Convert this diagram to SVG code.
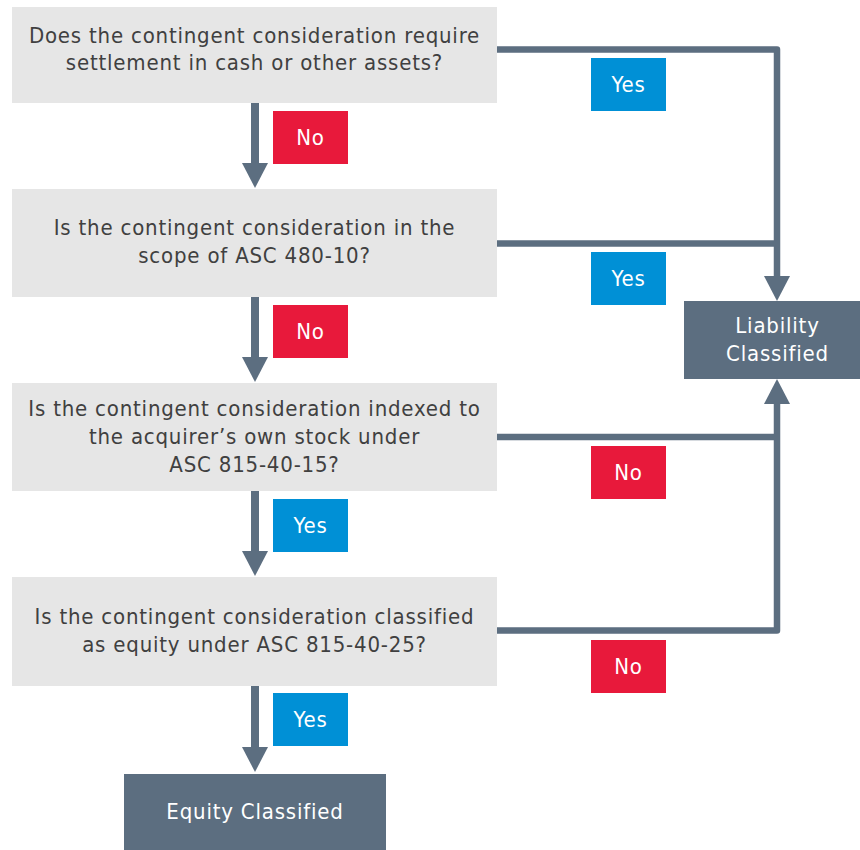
<svg xmlns="http://www.w3.org/2000/svg" width="860" height="850" viewBox="0 0 860 850">
<defs>
<style>
.q{fill:#e6e6e6}
.term{fill:#5c6e80}
.no{fill:#e8193b}
.yes{fill:#0090d6}
.qt{font-family:"DejaVu Sans Condensed","DejaVu Sans",sans-serif;font-stretch:condensed;font-size:22px;letter-spacing:0.8px;fill:#404040;text-anchor:middle}
.lt{font-family:"DejaVu Sans Condensed","DejaVu Sans",sans-serif;font-stretch:condensed;font-size:22px;letter-spacing:0.8px;fill:#ffffff;text-anchor:middle}
.main{fill:none;stroke:#5c6e80;stroke-width:8}
.side{fill:none;stroke:#5c6e80;stroke-width:6.5;stroke-linejoin:round}
</style>
<marker id="ah" markerUnits="userSpaceOnUse" markerWidth="26" markerHeight="26" refX="0" refY="13" orient="auto" viewBox="0 0 25 26">
<path d="M0,0 L25,13 L0,26 z" fill="#5c6e80"/>
</marker>
</defs>
<g id="connectors">
<path class="main" d="M255,103 V163" marker-end="url(#ah)"/>
<path class="main" d="M255,297 V357" marker-end="url(#ah)"/>
<path class="main" d="M255,491 V551" marker-end="url(#ah)"/>
<path class="main" d="M255,686 V747" marker-end="url(#ah)"/>
<path class="side" d="M497,49.5 H777 V276" marker-end="url(#ah)"/>
<path class="side" d="M497,243.5 H777"/>
<path class="side" d="M497,630.5 H777 V404" marker-end="url(#ah)"/>
<path class="side" d="M497,437 H777"/>
</g>
<g id="q1">
<rect class="q" x="12" y="7" width="485" height="96"/>
<text class="qt" x="254.5" y="43">Does the contingent consideration require</text>
<text class="qt" x="254.5" y="70">settlement in cash or other assets?</text>
</g>
<g id="q2">
<rect class="q" x="12" y="189" width="485" height="108"/>
<text class="qt" x="254.5" y="235">Is the contingent consideration in the</text>
<text class="qt" x="254.5" y="263">scope of ASC 480-10?</text>
</g>
<g id="q3">
<rect class="q" x="12" y="383" width="485" height="108"/>
<text class="qt" x="254.5" y="416">Is the contingent consideration indexed to</text>
<text class="qt" x="254.5" y="443.5">the acquirer’s own stock under</text>
<text class="qt" x="254.5" y="471.5">ASC 815-40-15?</text>
</g>
<g id="q4">
<rect class="q" x="12" y="577" width="485" height="109"/>
<text class="qt" x="254.5" y="623.5">Is the contingent consideration classified</text>
<text class="qt" x="254.5" y="651.5">as equity under ASC 815-40-25?</text>
</g>
<g id="liability">
<rect class="term" x="684" y="301" width="176" height="78"/>
<text class="lt" x="777.5" y="333">Liability</text>
<text class="lt" x="777.5" y="361">Classified</text>
</g>
<g id="equity">
<rect class="term" x="124" y="774" width="262" height="76"/>
<text class="lt" x="255" y="819">Equity Classified</text>
</g>
<g id="labels">
<g id="l1"><rect class="no" x="273" y="111" width="75" height="53"/><text class="lt" x="310.5" y="145">No</text></g>
<g id="l2"><rect class="no" x="273" y="305" width="75" height="53"/><text class="lt" x="310.5" y="339">No</text></g>
<g id="l3"><rect class="yes" x="273" y="499" width="75" height="53"/><text class="lt" x="310.5" y="533">Yes</text></g>
<g id="l4"><rect class="yes" x="273" y="693" width="75" height="53"/><text class="lt" x="310.5" y="727">Yes</text></g>
<g id="r1"><rect class="yes" x="591" y="58" width="75" height="53"/><text class="lt" x="628.5" y="92">Yes</text></g>
<g id="r2"><rect class="yes" x="591" y="252" width="75" height="53"/><text class="lt" x="628.5" y="286">Yes</text></g>
<g id="r3"><rect class="no" x="591" y="446" width="75" height="53"/><text class="lt" x="628.5" y="480">No</text></g>
<g id="r4"><rect class="no" x="591" y="640" width="75" height="53"/><text class="lt" x="628.5" y="674">No</text></g>
</g>
</svg>
